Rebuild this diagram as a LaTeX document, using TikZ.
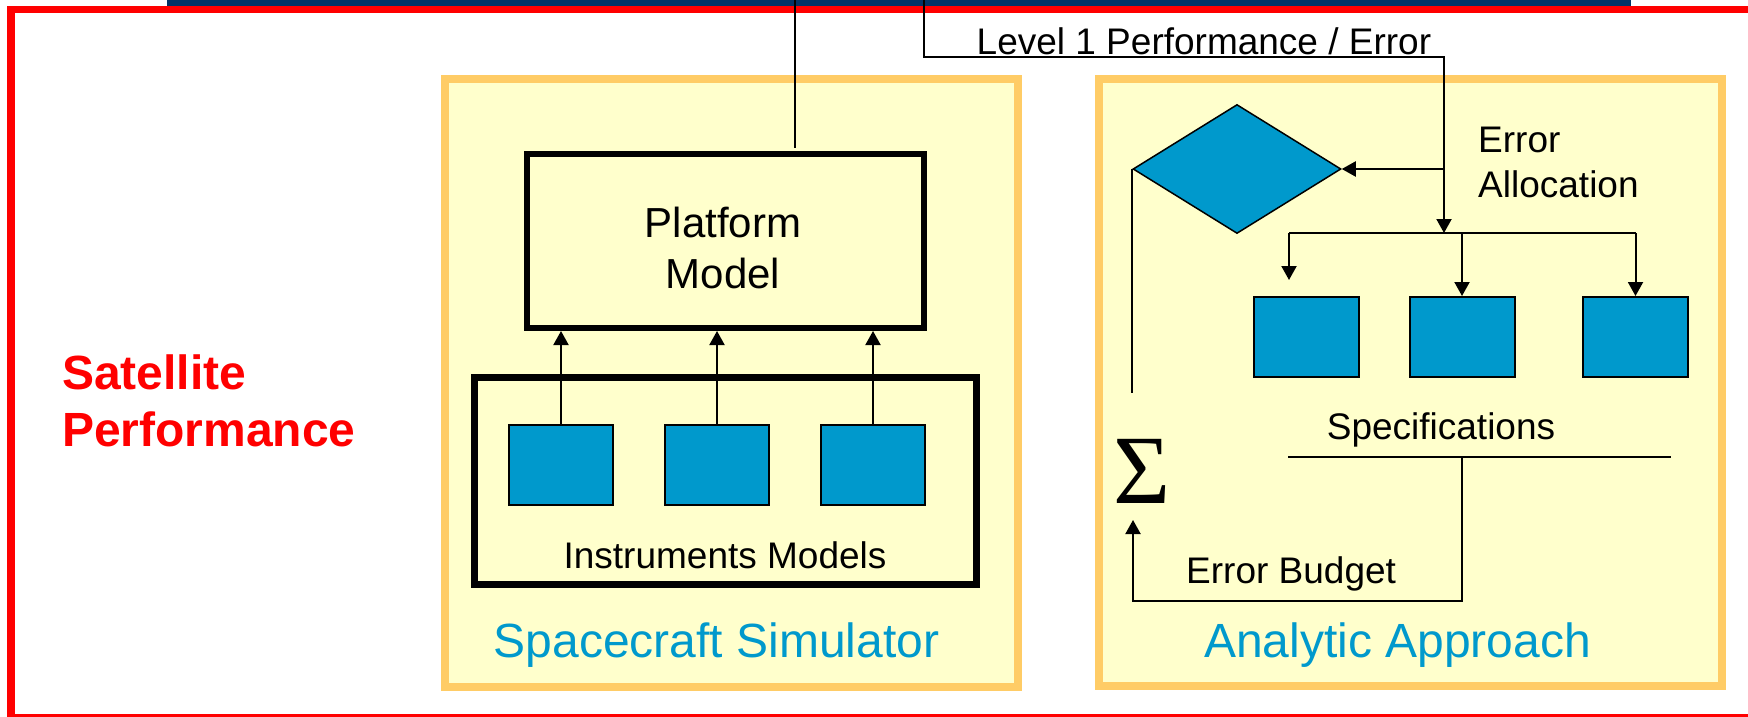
\documentclass[tikz,border=0pt]{standalone}
\usepackage{fontspec}
\setmainfont{Liberation Sans}
\newfontfamily\sigmafont{Liberation Serif}
\usetikzlibrary{arrows.meta,shapes.geometric}
\definecolor{navybar}{HTML}{003366}
\definecolor{framered}{HTML}{FF0000}
\definecolor{paneledge}{HTML}{FFCC66}
\definecolor{panelfill}{HTML}{FFFFCC}
\definecolor{boxblue}{HTML}{0099CC}
\definecolor{textblue}{HTML}{0099CC}
\begin{document}
\begin{tikzpicture}[x=1pt,y=-1pt,
  conn/.style={draw=black, line width=2pt},
  arr/.style={conn, -{Triangle[length=14pt,width=15pt]}},
  panel/.style={draw=paneledge, fill=panelfill, line width=8pt, inner sep=0pt},
  bluebox/.style={draw=black, fill=boxblue, line width=2pt, minimum width=104pt, minimum height=80pt, inner sep=0pt},
  modelbox/.style={draw=black, line width=6pt, inner sep=0pt},
  lbl/.style={font=\fontsize{37}{45}\selectfont, inner sep=0pt},
  title/.style={font=\fontsize{48}{57}\selectfont, text=textblue, inner sep=0pt},
]
\useasboundingbox (0,0) rectangle (1748,717);

% header bar and outer frame
\fill[navybar] (167,-1) rectangle (1631,7);
\begin{scope}
  \clip (0,0) rectangle (1748,717);
  \draw[framered, line width=7.5pt] (11,9.5) rectangle (1800,717.5);
\end{scope}

% the two approach panels
\node[panel, minimum width=573pt, minimum height=608pt] (simpanel) at (731.5,383) {};
\node[panel, minimum width=623pt, minimum height=607pt] (anapanel) at (1410.5,382.5) {};

% spacecraft simulator
\node[modelbox, minimum width=397pt, minimum height=174pt] (plat) at (725.5,241) {};
\node[font=\fontsize{42}{51}\selectfont, anchor=north, align=center, inner sep=0pt] (platt) at (723,207) {Platform\\Model};
\node[modelbox, line width=6.5pt, minimum width=502pt, minimum height=207pt] (inst) at (725.5,481) {};
\node[bluebox] (ia) at (561,465) {};
\node[bluebox] (ib) at (717,465) {};
\node[bluebox] (ic) at (873,465) {};
\node[lbl, anchor=base] (instt) at (725,568) {Instruments Models};
\node[title, anchor=base] (simt) at (716.5,657) {Spacecraft Simulator};

\foreach \b in {ia,ib,ic}
  \draw[arr] (\b.north) -- (\b.north |- plat.south);

% analytic approach
\node[diamond, draw=black, fill=boxblue, line width=1.5pt, minimum width=208pt, minimum height=129pt, inner sep=0pt] (dec) at (1237,169) {};
\node[bluebox, minimum width=105pt] (sa) at (1306.5,337) {};
\node[bluebox, minimum width=105pt] (sb) at (1462,337) {};
\node[bluebox, minimum width=105pt] (sc) at (1635.5,337) {};
\node[anchor=base, font=\sigmafont\fontsize{98}{98}\selectfont, inner sep=0pt] (sum) at (1142,503) {Σ};

\node[lbl, anchor=base west] (lvl) at (976.5,55) {Level 1 Performance / Error};
\node[lbl, anchor=north west, align=left] (alloc) at (1478,127) {Error\\Allocation};
\node[lbl, anchor=base] (spec) at (1441,439) {Specifications};
\node[lbl, anchor=base west] (budget) at (1186,583) {Error Budget};
\node[title, anchor=base] (anat) at (1397.5,657) {Analytic Approach};
\node[font=\bfseries\fontsize{48}{57}\selectfont, text=framered, anchor=north west, align=left, inner sep=0pt] (sat) at (62,354.5) {Satellite\\Performance};

% connectors
\coordinate (topA) at (795,0);
\draw[conn, shorten >=3pt] (topA) -- (topA |- plat.north);

\coordinate (topB) at (924,0);
\coordinate (elbow) at (1444,57);
\coordinate (fork) at (1444,233);
\coordinate (tap) at (1444,169);
\draw[arr] (topB) |- (elbow) -- (fork);
\draw[arr] (tap) -- (dec.east);

\coordinate (brL) at (1289,233);
\coordinate (brLend) at (1289,280);
\draw[conn] (brL) -- (sc.north |- fork);
\draw[arr] (brL) -- (brLend);
\draw[arr] (sb.north |- fork) -- (sb.north);
\draw[arr] (sc.north |- fork) -- (sc.north);

\coordinate (fbend) at (1133,393);
\draw[conn] (dec.west) -- (dec.west |- fbend);

\coordinate (specL) at (1288,457);
\coordinate (specR) at (1671,457);
\coordinate (tapS) at (1462,457);
\coordinate (sumin) at (1133,520);
\draw[conn] (specL) -- (specR);
\draw[arr] (tapS) -- ++(0,144) -| (sumin);
\end{tikzpicture}
\end{document}
